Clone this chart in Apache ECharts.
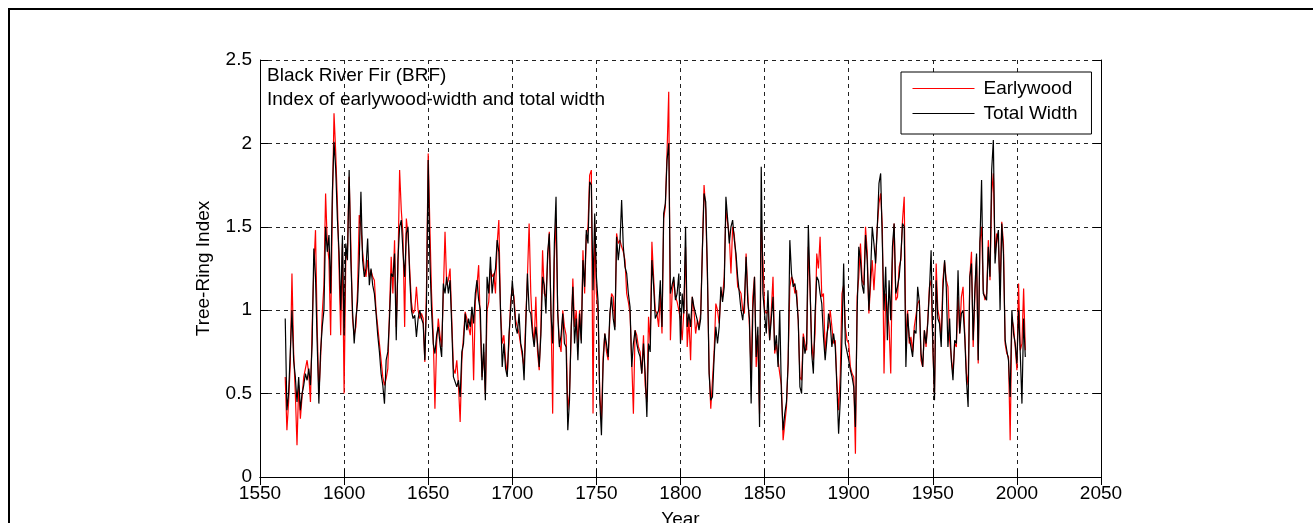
<!DOCTYPE html>
<html><head><meta charset="utf-8">
<script src="https://cdn.jsdelivr.net/npm/echarts@6/dist/echarts.min.js"></script>
<style>html,body{margin:0;padding:0;background:#fff;overflow:hidden;}#c{width:1313px;height:523px;}</style>
</head><body><div id="c"></div>
<script>
const startYear = 1565;
const xTicks = [1550, 1600, 1650, 1700, 1750, 1800, 1850, 1900, 1950, 2000, 2050];
const yTicks = [0, 0.5, 1, 1.5, 2, 2.5];
const titleLines = ['Black River Fir (BRF)', 'Index of earlywood-width and total width'];
const seriesNames = ['Earlywood', 'Total Width'];

const earlywood = [
  0.60,0.28,0.45,0.68,1.22,
  0.75,0.50,0.19,0.55,0.35,0.48,0.60,0.65,0.70,0.62,
  0.45,0.90,1.25,1.48,0.90,0.50,0.70,0.98,1.15,1.70,
  1.40,1.30,0.85,1.60,2.18,1.95,1.65,1.25,0.85,1.40,
  0.50,1.30,1.35,1.80,1.40,0.95,0.85,0.90,1.12,1.57,
  1.50,1.35,1.25,1.20,1.30,1.20,1.24,1.20,1.18,1.00,
  0.90,0.80,0.70,0.60,0.55,0.59,0.65,1.00,1.32,1.10,
  1.42,0.90,1.25,1.84,1.60,1.45,0.90,1.55,1.45,1.25,
  1.05,0.98,1.00,1.14,1.00,0.95,0.98,0.95,0.69,1.15,
  1.94,1.50,1.10,0.85,0.41,0.80,0.95,0.85,0.78,1.10,
  1.47,1.15,1.18,1.25,0.95,0.65,0.62,0.70,0.55,0.33,
  0.70,0.85,0.99,0.95,0.90,0.85,1.00,0.58,1.05,1.15,
  1.27,0.90,0.60,0.75,0.50,1.00,1.05,1.25,1.20,1.22,
  1.10,1.40,1.54,1.00,0.80,0.85,0.70,0.62,0.80,1.05,
  1.14,1.08,0.94,0.90,0.86,0.85,0.72,0.66,0.95,1.20,
  1.52,1.10,0.90,0.80,1.08,0.75,0.64,0.90,1.36,1.10,
  1.08,1.30,1.47,1.00,0.38,1.30,1.55,1.00,0.80,0.75,
  1.00,0.90,0.85,0.40,0.50,0.85,1.19,0.90,1.00,0.80,
  1.00,0.82,1.36,1.10,1.45,1.50,1.81,1.84,0.38,1.52,
  1.10,0.98,0.50,0.34,0.72,0.86,0.75,0.70,0.95,1.10,
  1.08,0.90,1.46,1.40,1.42,1.38,1.35,1.30,1.10,1.05,
  0.98,0.70,0.38,0.88,0.85,0.78,0.75,0.62,0.85,0.55,
  0.45,0.96,0.80,1.41,1.20,1.00,0.98,0.90,1.10,0.86,
  1.55,1.62,1.95,2.31,0.82,1.10,1.18,1.08,1.05,1.00,
  0.94,0.82,1.00,1.38,0.78,0.95,0.70,1.08,1.00,0.86,
  0.94,0.90,0.98,1.36,1.75,1.60,1.20,0.65,0.41,0.42,
  0.75,1.04,1.00,0.92,1.10,1.08,1.20,1.60,1.60,1.45,
  1.22,1.50,1.45,1.30,1.14,1.15,1.10,1.00,0.98,1.34,
  1.10,0.90,0.62,1.08,1.20,0.66,0.85,0.38,1.50,1.30,
  1.00,0.98,1.00,0.82,1.00,1.20,0.74,0.80,0.70,0.62,
  0.55,0.22,0.32,0.42,0.70,1.14,1.20,1.18,1.10,1.12,
  0.94,0.60,0.58,0.86,0.80,0.76,1.38,1.14,0.80,0.70,
  0.86,1.34,1.25,1.44,1.08,1.10,0.75,0.86,0.90,1.00,
  1.00,0.80,0.82,0.56,0.40,0.62,1.10,1.15,0.90,0.82,
  0.80,0.66,0.62,0.60,0.14,1.08,1.20,1.40,1.18,1.15,
  1.50,1.35,0.98,1.15,1.30,1.12,1.30,1.50,1.64,1.70,
  1.50,0.62,1.10,1.00,0.90,0.62,1.30,1.52,1.06,1.08,
  1.26,1.30,1.54,1.68,0.80,1.00,0.80,0.84,0.75,0.90,
  0.90,1.04,1.06,0.70,0.66,0.88,0.78,0.94,1.14,1.18,
  0.78,0.50,1.28,1.00,0.95,0.82,1.18,1.29,1.18,1.14,
  0.82,0.72,0.62,0.80,0.78,1.08,0.86,1.08,1.14,0.86,
  0.62,0.55,1.20,1.35,0.78,1.08,1.32,0.68,1.41,1.50,
  1.12,1.06,1.10,1.42,1.18,1.70,1.82,1.34,1.46,1.40,
  1.14,1.53,1.40,0.80,0.74,0.72,0.22,0.95,0.90,0.78,
  0.64,1.16,0.76,0.80,1.13,0.76
];

const totalWidth = [
  0.95,0.40,0.50,0.75,1.00,
  0.70,0.60,0.45,0.60,0.40,0.50,0.55,0.62,0.58,0.65,
  0.55,0.80,1.37,1.20,0.80,0.44,0.75,0.90,1.00,1.50,
  1.35,1.45,1.10,1.70,2.01,1.85,1.55,1.35,1.00,1.45,
  0.85,1.40,1.30,1.84,1.30,1.00,0.80,0.95,1.05,1.30,
  1.71,1.30,1.20,1.25,1.43,1.15,1.25,1.15,1.10,0.98,
  0.85,0.75,0.62,0.55,0.44,0.70,0.75,0.95,1.22,1.20,
  1.34,0.82,1.30,1.50,1.54,1.35,1.20,1.46,1.50,1.20,
  1.00,0.95,0.97,0.84,0.95,1.00,0.95,0.92,0.70,1.05,
  1.90,1.30,1.00,0.80,0.74,0.85,0.90,0.80,0.72,1.16,
  1.10,1.20,1.10,1.18,0.90,0.60,0.60,0.54,0.58,0.48,
  0.75,0.80,0.98,0.88,0.95,0.90,1.02,0.92,1.10,1.18,
  1.06,1.00,0.58,0.80,0.46,1.20,1.10,1.32,1.10,1.20,
  1.25,1.42,1.35,1.00,0.66,0.80,0.65,0.60,0.85,1.00,
  1.18,1.05,0.90,0.86,0.98,0.80,0.75,0.58,0.90,1.22,
  1.00,0.98,0.86,0.78,0.90,0.80,0.66,0.85,1.20,1.15,
  0.98,1.34,1.46,0.98,0.80,1.40,1.68,0.98,0.78,0.85,
  0.98,0.80,0.78,0.28,0.46,0.90,1.14,0.80,0.95,0.70,
  0.98,0.80,1.30,1.14,1.48,1.40,1.77,1.75,1.12,1.58,
  1.20,1.05,0.46,0.25,0.68,0.86,0.80,0.72,0.98,1.08,
  0.95,0.88,1.44,1.30,1.40,1.66,1.38,1.26,1.22,1.10,
  1.02,0.66,0.80,0.88,0.80,0.75,0.72,0.62,0.80,0.62,
  0.36,0.80,0.75,1.30,1.15,0.95,0.95,1.00,1.18,0.90,
  1.58,1.64,1.90,2.00,1.10,1.15,1.20,1.06,1.10,1.22,
  0.80,1.10,0.98,1.50,0.90,0.98,0.90,1.08,1.02,0.98,
  0.94,0.88,0.95,1.36,1.70,1.65,1.24,0.62,0.46,0.48,
  0.72,0.90,0.80,0.90,1.14,1.05,1.14,1.68,1.55,1.40,
  1.50,1.54,1.42,1.34,1.20,1.10,1.00,0.94,1.05,1.32,
  1.05,0.95,0.44,1.00,1.20,0.72,0.90,0.30,1.86,1.10,
  0.98,0.86,1.12,0.82,0.95,1.08,0.76,0.85,0.66,1.00,
  0.50,0.28,0.38,0.45,0.68,1.42,1.22,1.14,1.16,1.08,
  0.94,0.54,0.50,0.84,0.74,0.80,1.51,1.15,0.74,0.62,
  0.98,1.20,1.18,1.10,1.04,0.84,0.70,0.82,0.98,0.92,
  0.78,0.86,0.78,0.54,0.26,0.46,0.84,1.28,0.80,0.80,
  0.70,0.64,0.60,0.54,0.30,0.98,1.38,1.30,1.15,1.10,
  1.45,1.30,1.00,1.22,1.50,1.40,1.28,1.50,1.76,1.82,
  1.40,1.00,1.26,0.82,1.18,0.94,1.38,1.52,1.10,1.14,
  1.20,1.32,1.52,1.50,0.66,0.98,0.84,0.78,0.72,0.88,
  0.86,1.14,1.05,0.74,0.66,0.88,0.80,0.92,1.12,1.36,
  0.80,0.46,1.18,0.95,0.92,0.78,1.12,1.30,1.14,0.78,
  0.95,0.70,0.58,0.82,0.80,1.24,0.86,0.98,1.00,0.84,
  0.58,0.42,1.20,1.28,0.82,1.12,1.34,0.70,1.40,1.78,
  1.10,1.08,1.06,1.38,1.20,1.84,2.02,1.28,1.42,1.48,
  1.00,1.52,1.34,0.82,0.76,0.70,0.48,1.00,0.86,0.80,
  0.68,1.00,0.74,0.44,0.95,0.72
];

const years = earlywood.map((v, i) => startYear + i);
const FONT = '"Liberation Sans", Arial, Helvetica, sans-serif';
const chart = echarts.init(document.getElementById('c'), null, {renderer: 'canvas', width: 1313, height: 523});

const gridLine = {show: true, lineStyle: {color: '#222', width: 1, type: [4, 4]}};
const tick = {show: true, inside: true, length: 8, lineStyle: {color: '#000'}};
const axLine = {show: true, lineStyle: {color: '#000', width: 1}};

chart.setOption({
  animation: false,
  backgroundColor: '#fff',
  textStyle: {fontFamily: FONT},
  grid: {left: 260, width: 841, top: 60, height: 417, containLabel: false, outerBoundsMode: 'none'},
  xAxis: [{
    type: 'value', min: xTicks[0], max: xTicks[xTicks.length - 1], interval: 50,
    position: 'bottom',
    axisLine: axLine, axisTick: tick, splitLine: gridLine,
    axisLabel: {color: '#000', fontSize: 19, fontFamily: FONT, margin: 7, formatter: v => String(v)},
    name: 'Year', nameLocation: 'middle', nameGap: 33,
    nameTextStyle: {color: '#000', fontSize: 19, fontFamily: FONT}
  }, {
    type: 'value', min: xTicks[0], max: xTicks[xTicks.length - 1], interval: 50,
    position: 'top',
    axisLine: axLine, axisTick: tick, splitLine: {show: false}, axisLabel: {show: false}
  }],
  yAxis: [{
    type: 'value', min: yTicks[0], max: yTicks[yTicks.length - 1], interval: 0.5,
    position: 'left',
    axisLine: axLine, axisTick: tick, splitLine: gridLine,
    axisLabel: {color: '#000', fontSize: 19, fontFamily: FONT, margin: 8},
    name: 'Tree-Ring Index', nameLocation: 'middle', nameGap: 47,
    nameTextStyle: {color: '#000', fontSize: 19, fontFamily: FONT}
  }, {
    type: 'value', min: yTicks[0], max: yTicks[yTicks.length - 1], interval: 0.5,
    position: 'right',
    axisLine: axLine, axisTick: tick, splitLine: {show: false}, axisLabel: {show: false}
  }],
  legend: {
    orient: 'vertical', left: 901, top: 72,
    padding: [7, 14, 11, 11],
    itemWidth: 62, itemHeight: 19, itemGap: 6,
    itemStyle: {opacity: 0},
    lineStyle: {width: 1},
    backgroundColor: '#fff', borderColor: '#000', borderWidth: 1,
    textStyle: {color: '#000', fontSize: 19, fontFamily: FONT, padding: [0, 0, 0, 4]},
    data: seriesNames
  },
  series: [{
    name: seriesNames[0], type: 'line', xAxisIndex: 0, yAxisIndex: 0,
    symbol: 'none', showSymbol: false,
    lineStyle: {color: '#ff0000', width: 1.2}, itemStyle: {color: '#ff0000'},
    data: years.map((y, i) => [y, earlywood[i]])
  }, {
    name: seriesNames[1], type: 'line', xAxisIndex: 0, yAxisIndex: 0,
    symbol: 'none', showSymbol: false,
    lineStyle: {color: '#000000', width: 1.2}, itemStyle: {color: '#000000'},
    data: years.map((y, i) => [y, totalWidth[i]])
  }],
  graphic: [
    {type: 'rect', silent: true, z: -1,
     shape: {x: 9, y: 9, width: 1320, height: 530},
     style: {fill: 'none', stroke: '#000', lineWidth: 2}},
    {type: 'text', left: 267, top: 66, silent: true, z: 10,
     style: {text: titleLines[0], font: '19px ' + FONT, fill: '#000'}},
    {type: 'text', left: 267, top: 90, silent: true, z: 10,
     style: {text: titleLines[1], font: '19px ' + FONT, fill: '#000'}}
  ]
});
</script>
</body></html>
